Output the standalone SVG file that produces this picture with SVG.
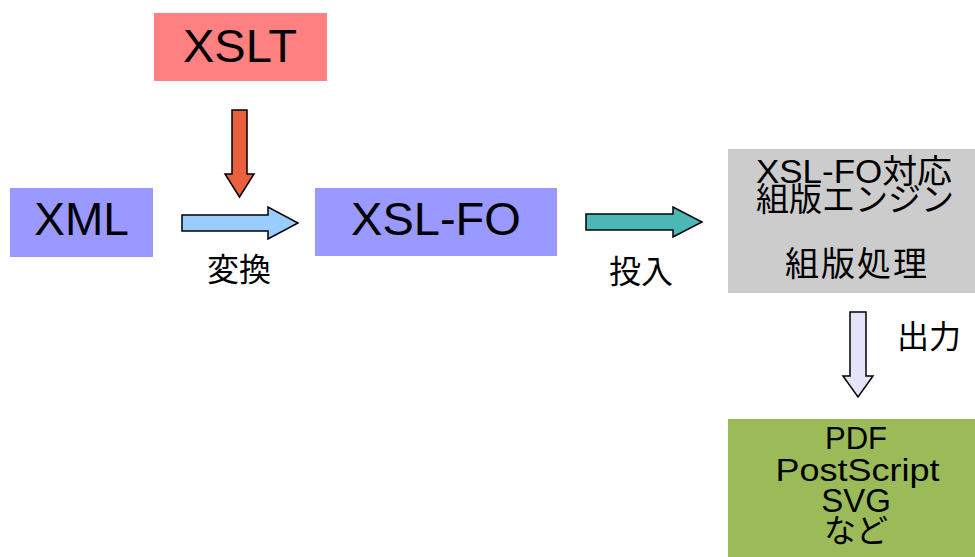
<svg xmlns="http://www.w3.org/2000/svg" width="975" height="557" viewBox="0 0 975 557">
  <style>
    .lat { font-family: "Liberation Sans", Arial, sans-serif; fill: #000; text-anchor: middle; }
    .cjk { font-family: "Liberation Sans", "Noto Sans CJK JP", sans-serif; fill: #000; text-anchor: middle; }
    .arrow { stroke: #000; stroke-width: 1.5; stroke-linejoin: miter; }
  </style>

  <!-- nodes -->
  <g id="xslt">
    <rect x="154" y="13" width="173" height="68" fill="#ff8080"/>
    <text class="lat" x="240" y="62" font-size="47">XSLT</text>
  </g>

  <g id="xml">
    <rect x="10" y="188" width="143" height="69" fill="#9999ff"/>
    <text class="lat" x="81.5" y="235" font-size="46">XML</text>
  </g>

  <g id="xsl-fo">
    <rect x="315" y="188" width="242" height="68" fill="#9999ff"/>
    <text class="lat" x="436" y="235" font-size="47">XSL-FO</text>
  </g>

  <g id="engine">
    <rect x="728" y="149" width="247" height="144" fill="#cccccc"/>
    <text class="cjk" x="854" y="183" font-size="33" textLength="196" lengthAdjust="spacingAndGlyphs">XSL-FO対応</text>
    <text class="cjk" x="855" y="211" font-size="33">組版エンジン</text>
    <text class="cjk" x="857" y="276" font-size="34" letter-spacing="2">組版処理</text>
  </g>

  <g id="output">
    <rect x="728" y="419" width="247" height="138" fill="#9bbb59"/>
    <text class="lat" x="856" y="449" font-size="31">PDF</text>
    <text class="lat" x="857.5" y="481" font-size="32" textLength="164" lengthAdjust="spacingAndGlyphs">PostScript</text>
    <text class="lat" x="856" y="512" font-size="33">SVG</text>
    <text class="cjk" x="856" y="542" font-size="32">など</text>
  </g>

  <!-- connectors -->
  <g id="connectors">
    <polygon class="arrow" fill="#e8603c" points="232,110 247,110 247,174 254,174 239.5,197 225,174 232,174"/>
    <polygon class="arrow" fill="#99ccff" points="182,215 268,215 268,207 298,223 268,239 268,231 182,231"/>
    <text class="cjk" x="239" y="281" font-size="32">変換</text>
    <polygon class="arrow" fill="#4bb8b5" points="586,214 673,214 673,207 702,222 673,237 673,230 586,230"/>
    <text class="cjk" x="641" y="283" font-size="32">投入</text>
    <polygon class="arrow" fill="#e4e4f8" points="850,312 866,312 866,376 873,376 858,397 843,376 850,376"/>
    <text class="cjk" x="929" y="348" font-size="32">出力</text>
  </g>
</svg>
